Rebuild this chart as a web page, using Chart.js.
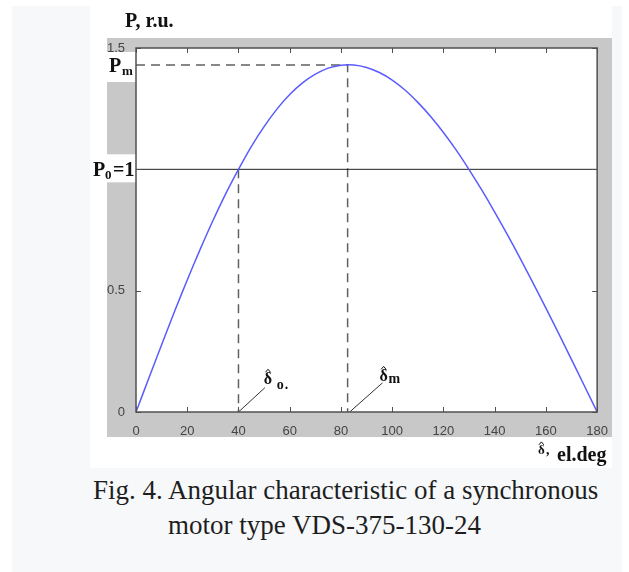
<!DOCTYPE html>
<html>
<head>
<meta charset="utf-8">
<script src="https://cdn.jsdelivr.net/npm/chart.js@4.4.1/dist/chart.umd.min.js"></script>
<style>
  body { margin: 0; background: #fff; width: 629px; height: 572px; position: relative; overflow: hidden; }
  #panel { position: absolute; left: 12px; top: 6px; width: 610px; height: 566px; background: #f7f8fa; }
  #fig { position: absolute; left: 90px; top: 0; width: 522px; height: 468px; background: #fff; }
  .cap { position: absolute; font-family: "Liberation Serif", "Times New Roman", serif; font-size: 27px; color: #1e1e1e; white-space: nowrap; line-height: 1; }
</style>
</head>
<body>
<div id="panel"></div>
<div id="fig"><canvas id="chart" width="522" height="468"></canvas></div>
<div class="cap" style="left:93px; top:477px;">Fig. 4. Angular characteristic of a synchronous</div>
<div class="cap" style="left:168px; top:512px;">motor type VDS-375-130-24</div>
<script>
// load angle, el.deg
var deltaDeg = [0, 5, 10, 15, 20, 25, 30, 35, 40, 45, 50, 55, 60, 65, 70, 75, 80, 85, 90,
    95, 100, 105, 110, 115, 120, 125, 130, 135, 140, 145, 150, 155, 160, 165, 170, 175, 180];
// power, r.u.
var powerRu = [0, 0.139, 0.277, 0.413, 0.544, 0.669, 0.788, 0.899, 1.0, 1.094, 1.176, 1.248, 1.308, 1.356, 1.392, 1.417, 1.429, 1.43, 1.42,
    1.399, 1.368, 1.327, 1.276, 1.218, 1.152, 1.079, 0.999, 0.914, 0.824, 0.73, 0.632, 0.531, 0.428, 0.323, 0.216, 0.108, 0];

var pMax = 1.43;
var deltaMax = 82.6;
var p0 = 1;
var delta0 = 40;

var xTicks = [0, 20, 40, 60, 80, 100, 120, 140, 160, 180];
var yTicks = [0, 0.5, 1, 1.5];

var serif = '"Liberation Serif", "Times New Roman", serif';
var sans = '"Liberation Sans", Arial, sans-serif';

function pts(xs, ys) {
    return xs.map((x, i) => ({ x: x, y: ys[i] }));
}

// delta with a small hat over it
function hatDelta(ctx, x, y, size) {
    ctx.font = "bold " + size + "px " + serif;
    ctx.fillText("\u03B4", x, y);
    const w = ctx.measureText("\u03B4").width;
    const cx = x + w / 2;
    const top = y - size * 0.78;
    ctx.beginPath();
    ctx.lineWidth = 1;
    ctx.moveTo(cx - 2.5, top + 1);
    ctx.lineTo(cx, top - 2);
    ctx.lineTo(cx + 2.5, top + 1);
    ctx.stroke();
    return w;
}

const figPlugin = {
    id: "fig",
    beforeDraw(chart) {
        const ctx = chart.ctx;
        const a = chart.chartArea;
        const y = chart.scales.y;
        ctx.save();
        ctx.fillStyle = "#c8c8c8";
        ctx.fillRect(a.left - 29, a.top - 10, a.right - a.left + 45, a.bottom - a.top + 35);
        ctx.fillStyle = "#fff";
        ctx.fillRect(a.left, a.top, a.right - a.left, a.bottom - a.top);
        // white patches behind the Pm and P0 labels
        ctx.fillRect(a.left - 29, y.getPixelForValue(pMax) - 13, 29, 30);
        ctx.fillRect(a.left - 29, y.getPixelForValue(p0) - 15, 29, 28);
        ctx.restore();
    },
    afterDraw(chart) {
        const ctx = chart.ctx;
        const a = chart.chartArea;
        const x = chart.scales.x;
        const y = chart.scales.y;
        ctx.save();
        // axes box
        ctx.strokeStyle = "#505050";
        ctx.lineWidth = 1.5;
        ctx.strokeRect(a.left, a.top, a.right - a.left, a.bottom - a.top);
        // inward ticks
        ctx.lineWidth = 1;
        ctx.beginPath();
        xTicks.forEach(v => {
            const px = Math.round(x.getPixelForValue(v)) + 0.5;
            ctx.moveTo(px, a.bottom); ctx.lineTo(px, a.bottom - 5);
            ctx.moveTo(px, a.top); ctx.lineTo(px, a.top + 5);
        });
        yTicks.forEach(v => {
            const py = Math.round(y.getPixelForValue(v)) + 0.5;
            ctx.moveTo(a.left, py); ctx.lineTo(a.left + 5, py);
            ctx.moveTo(a.right, py); ctx.lineTo(a.right - 5, py);
        });
        ctx.stroke();

        ctx.fillStyle = "#111";
        ctx.strokeStyle = "#111";
        ctx.textBaseline = "alphabetic";
        ctx.textAlign = "left";
        // axis titles
        ctx.font = "bold 20px " + serif;
        ctx.fillText("P, r.u.", 35, 27);
        ctx.font = "bold 20px " + serif;
        ctx.fillText("el.deg", 467, 461);
        hatDelta(ctx, 448, 454, 13);
        ctx.font = "bold 14px " + serif;
        ctx.fillText(",", 456, 454);

        // Pm label
        let py = y.getPixelForValue(pMax);
        ctx.font = "bold 20px " + serif;
        ctx.fillText("P", 19, py + 7);
        ctx.font = "bold 13px " + serif;
        ctx.fillText("m", 32, py + 10);
        // P0=1 label
        py = y.getPixelForValue(p0);
        ctx.font = "bold 20px " + serif;
        ctx.fillText("P", 3, py + 7);
        ctx.font = "bold 13px " + serif;
        ctx.fillText("0", 15, py + 10);
        ctx.font = "bold 20px " + serif;
        ctx.fillText("=1", 23, py + 7);

        // delta labels
        let px = x.getPixelForValue(50.3);
        let by = y.getPixelForValue(0.1);
        hatDelta(ctx, px - 1, by - 4, 16);
        ctx.font = "bold 14px " + serif;
        ctx.fillText("o", px + 12, by + 1);
        ctx.fillText(".", px + 20, by + 1);
        px = x.getPixelForValue(96.2);
        by = y.getPixelForValue(0.12);
        hatDelta(ctx, px - 3, by - 2, 16);
        ctx.font = "bold 14px " + serif;
        ctx.fillText("m", px + 6, by);
        ctx.restore();
    }
};

new Chart(document.getElementById("chart"), {
    type: "scatter",
    data: {
        datasets: [{
            label: "P(delta)",
            data: pts(deltaDeg, powerRu),
            showLine: true,
            borderColor: "#5b5bff",
            borderWidth: 1.5,
            pointRadius: 0,
            tension: 0.3
        }, {
            label: "P0",
            data: pts([0, 180], [p0, p0]),
            showLine: true,
            borderColor: "#222",
            borderWidth: 1,
            pointRadius: 0
        }, {
            label: "Pm",
            data: pts([0, deltaMax, deltaMax], [pMax, pMax, 0]),
            showLine: true,
            borderColor: "#606060",
            borderWidth: 1.5,
            borderDash: [9, 6],
            pointRadius: 0
        }, {
            label: "delta0",
            data: pts([delta0, delta0], [p0, 0]),
            showLine: true,
            borderColor: "#606060",
            borderWidth: 1.5,
            borderDash: [9, 6],
            pointRadius: 0
        }, {
            label: "lead0",
            data: pts([delta0, 50.3], [0, 0.1]),
            showLine: true,
            borderColor: "#333",
            borderWidth: 1,
            pointRadius: 0
        }, {
            label: "leadm",
            data: pts([83.4, 96.2], [0, 0.12]),
            showLine: true,
            borderColor: "#333",
            borderWidth: 1,
            pointRadius: 0
        }]
    },
    options: {
        responsive: false,
        animation: false,
        events: [],
        layout: { padding: { left: 16, right: 14, top: 48, bottom: 26 } },
        plugins: { legend: { display: false }, tooltip: { enabled: false } },
        scales: {
            x: {
                type: "linear",
                min: 0, max: 180,
                afterBuildTicks: s => { s.ticks = xTicks.map(v => ({ value: v })); },
                afterFit: s => { s.height = 30; },
                grid: { display: false },
                border: { display: false },
                ticks: { color: "#444", font: { family: sans, size: 13 }, padding: 4, maxRotation: 0 }
            },
            y: {
                type: "linear",
                min: 0, max: 1.5,
                afterBuildTicks: s => { s.ticks = yTicks.map(v => ({ value: v })); },
                afterFit: s => { s.width = 30; },
                grid: { display: false },
                border: { display: false },
                ticks: {
                    color: "#444", font: { family: sans, size: 13 }, padding: 3,
                    callback: v => (v === 1 ? "" : String(v))
                }
            }
        }
    },
    plugins: [figPlugin]
});
</script>
</body>
</html>
